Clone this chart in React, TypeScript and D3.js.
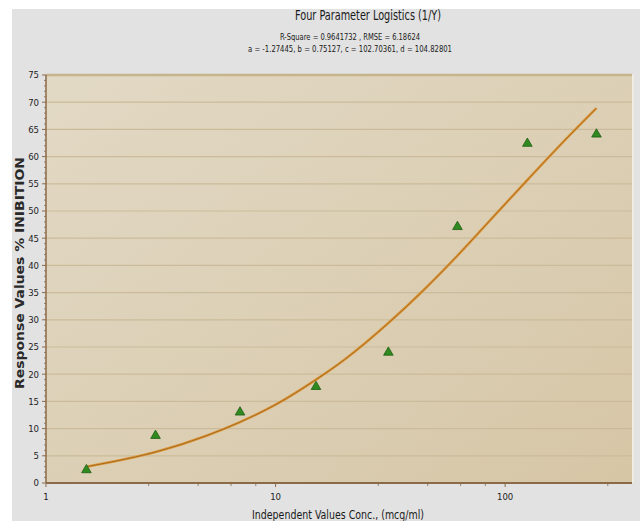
import React from "react";
import * as d3 from "d3";

const titleText = "Four Parameter Logistics (1/Y)";
const subtitle1 = "R-Square = 0.9641732 , RMSE = 6.18624";
const subtitle2 = "a = -1.27445, b = 0.75127, c = 102.70361, d = 104.82801";
const xTitle = "Independent Values Conc., (mcg/ml)";
const yTitle = "Response Values % INIBITION";

// observed data (triangles)
const pointX = [1.5, 3, 7, 15, 31, 62, 125, 250];
const pointY = [2.4, 8.7, 13.0, 17.7, 24.0, 47.1, 62.4, 64.1];

// fitted curve
const curveX = [1.5, 2, 3, 5, 7, 10, 15, 20, 31, 45, 62, 90, 125, 180, 250];
const curveY = [3.0, 4.0, 5.7, 8.7, 11.2, 14.4, 19.0, 22.7, 29.4, 35.8, 41.8, 49.2, 55.7, 62.8, 68.9];

const xMajorTicks = [1, 10, 100];
const xMinorTicks = [2.8, 4.6, 6.4, 8.2, 28, 46, 64, 82, 280];
const yMajorTicks = [0, 5, 10, 15, 20, 25, 30, 35, 40, 45, 50, 55, 60, 65, 70, 75];

const W = 640;
const H = 521;
const L = 46, R = 632, T = 75, B = 483;

export default function App() {
  const x = d3.scaleLog().domain([1, 357]).range([L, R]);
  const y = d3.scaleLinear().domain([0, 75]).range([B, T]);
  const yMinor = d3.range(0, 76, 1).filter((v) => v % 5 !== 0);

  const line = d3
    .line<number>()
    .x((_, i) => x(curveX[i]))
    .y((d) => y(d))
    .curve(d3.curveMonotoneX);
  const path = line(curveY) || "";
  const tri = d3.symbol().type(d3.symbolTriangle).size(40)() || "";
  const font = "'DejaVu Sans Condensed', 'DejaVu Sans', sans-serif";

  return (
    <svg
      width={W}
      height={H}
      style={{ position: "absolute", left: 0, top: 0 }}
      fontFamily={font}
    >
      <defs>
        <linearGradient id="bg" x1="0" y1="0" x2="1" y2="1">
          <stop offset="0" stopColor="#e2d9c5" />
          <stop offset="1" stopColor="#d6c6a6" />
        </linearGradient>
      </defs>
      <rect x={0} y={0} width={W} height={H} fill="#ffffff" />
      <rect x={12} y={9} width={W - 12} height={H - 9} fill="#e2e2e2" />
      <text x={368} y={20} textAnchor="middle" fontSize={13.5} fill="#1a1a1a" textLength={146} lengthAdjust="spacingAndGlyphs">
        {titleText}
      </text>
      <text x={350} y={40} textAnchor="middle" fontSize={9} fill="#1a1a1a" textLength={140} lengthAdjust="spacingAndGlyphs">
        {subtitle1}
      </text>
      <text x={350} y={52} textAnchor="middle" fontSize={9} fill="#1a1a1a" textLength={204} lengthAdjust="spacingAndGlyphs">
        {subtitle2}
      </text>

      <rect x={L} y={T} width={R - L} height={B - T} fill="url(#bg)" />
      <line x1={R + 1} x2={R + 1} y1={T} y2={B} stroke="#f0ece4" strokeWidth={2} />
      {yMajorTicks.filter((v) => v > 0).map((v) => (
        <line key={"g" + v} x1={L} x2={R} y1={y(v)} y2={y(v)} stroke={v === 75 ? "#c6b58c" : "#cbbb9a"} strokeWidth={v === 75 ? 2.5 : 1.2} />
      ))}

      {/* axes */}
      <line x1={L} x2={L} y1={T} y2={B} stroke="#8a6a48" strokeWidth={1.5} />
      <line x1={L} x2={R} y1={B} y2={B} stroke="#8a6a48" strokeWidth={2} />
      {yMajorTicks.map((v) => (
        <g key={"yt" + v}>
          <line x1={L - 4} x2={L} y1={y(v)} y2={y(v)} stroke="#8a6a48" strokeWidth={1} />
          <text x={L - 7} y={y(v)} dy="0.35em" textAnchor="end" fontSize={9.5} fill="#222">
            {v}
          </text>
        </g>
      ))}
      {yMinor.map((v) => (
        <line key={"ym" + v} x1={L - 2} x2={L} y1={y(v)} y2={y(v)} stroke="#8a6a48" strokeWidth={0.8} />
      ))}
      {xMajorTicks.map((v) => (
        <g key={"xt" + v}>
          <line x1={x(v)} x2={x(v)} y1={B} y2={B + 4} stroke="#8a6a48" strokeWidth={1} />
          <text x={x(v)} y={B + 17} textAnchor="middle" fontSize={9.5} fill="#222">
            {v}
          </text>
        </g>
      ))}
      {xMinorTicks.map((v) => (
        <line key={"xm" + v} x1={x(v)} x2={x(v)} y1={B - 1} y2={B + 3} stroke="#8a6a48" strokeWidth={0.8} />
      ))}

      {/* fitted curve */}
      <path d={path} fill="none" stroke="#dc9638" strokeWidth={2.6} />
      <path d={path} fill="none" stroke="#a0661f" strokeWidth={0.9} />

      {/* points */}
      {pointX.map((v, i) => (
        <path
          key={"p" + i}
          d={tri}
          transform={`translate(${x(v)},${y(pointY[i])})`}
          fill="#2f8a1f"
          stroke="#1f5e14"
          strokeWidth={0.8}
        />
      ))}

      <text
        transform={`translate(24,${(T + B) / 2 - 6}) rotate(-90)`}
        textAnchor="middle"
        fontSize={11.5}
        fontWeight="bold"
        fontFamily="'DejaVu Sans', sans-serif"
        fill="#2a2a2a"
        textLength={232}
        lengthAdjust="spacingAndGlyphs"
      >
        {yTitle}
      </text>
      <text x={338} y={519} textAnchor="middle" fontSize={12} fill="#1a1a1a" textLength={172} lengthAdjust="spacingAndGlyphs">
        {xTitle}
      </text>
    </svg>
  );
}
